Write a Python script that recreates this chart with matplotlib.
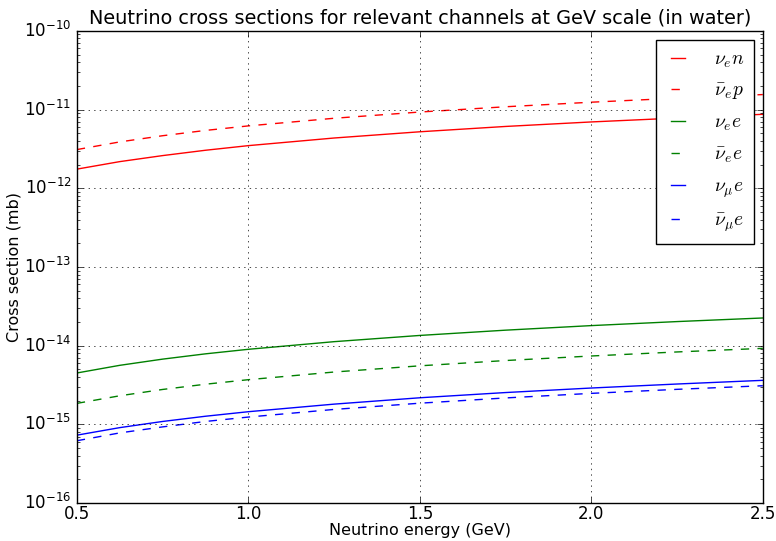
import numpy as np
import matplotlib
matplotlib.use("Agg")
import matplotlib.pyplot as plt

plt.style.use("classic")

# neutrino energy (GeV)
energy = [0.5, 0.625, 0.75, 0.875, 1.0, 1.25, 1.5, 1.75, 2.0, 2.25, 2.5]

# cross sections (mb)
nue_n = [1.75e-12, 2.18e-12, 2.6e-12, 3.04e-12, 3.48e-12, 4.35e-12, 5.22e-12, 6.1e-12, 6.96e-12, 7.8e-12, 8.7e-12]
nuebar_p = [3.1e-12, 3.88e-12, 4.65e-12, 5.43e-12, 6.2e-12, 7.75e-12, 9.3e-12, 10.85e-12, 12.4e-12, 13.95e-12, 15.5e-12]
nue_e = [4.5e-15, 5.63e-15, 6.75e-15, 7.88e-15, 9.0e-15, 11.25e-15, 13.5e-15, 15.75e-15, 18.0e-15, 20.25e-15, 22.5e-15]
nuebar_e = [1.85e-15, 2.31e-15, 2.78e-15, 3.24e-15, 3.7e-15, 4.63e-15, 5.55e-15, 6.48e-15, 7.4e-15, 8.33e-15, 9.25e-15]
numu_e = [0.73e-15, 0.91e-15, 1.09e-15, 1.27e-15, 1.45e-15, 1.81e-15, 2.18e-15, 2.54e-15, 2.9e-15, 3.26e-15, 3.63e-15]
numubar_e = [0.62e-15, 0.78e-15, 0.93e-15, 1.09e-15, 1.24e-15, 1.55e-15, 1.86e-15, 2.17e-15, 2.48e-15, 2.79e-15, 3.1e-15]

fig = plt.figure(figsize=(7.76, 5.41), dpi=100, facecolor="white")
ax = fig.add_axes([0.099, 0.070, 0.884, 0.873])

ax.plot(energy, nue_n, "r-", label=r"$\nu_e n$")
ax.plot(energy, nuebar_p, "r--", label=r"$\bar{\nu}_e p$")
ax.plot(energy, nue_e, "g-", label=r"$\nu_e e$")
ax.plot(energy, nuebar_e, "g--", label=r"$\bar{\nu}_e e$")
ax.plot(energy, numu_e, "b-", label=r"$\nu_\mu e$")
ax.plot(energy, numubar_e, "b--", label=r"$\bar{\nu}_\mu e$")

ax.set_yscale("log")
ax.set_xlim(0.5, 2.5)
ax.set_ylim(1e-16, 1e-10)
ax.set_xticks([0.5, 1.0, 1.5, 2.0, 2.5])
ax.grid(True)

ax.set_title("Neutrino cross sections for relevant channels at GeV scale (in water)", fontsize=13.9)
ax.set_xlabel("Neutrino energy (GeV)", fontsize=11.5, labelpad=0)
ax.set_ylabel("Cross section (mb)", fontsize=11.5, labelpad=2)
ax.tick_params(labelsize=12)
ax.tick_params(axis="x", pad=1)

ax.legend(loc="upper right", fontsize=14, handlelength=1.3, handletextpad=1.2,
          labelspacing=0.58, borderpad=0.5, borderaxespad=0.45)

fig.savefig("out.png", dpi=100, facecolor="white")
